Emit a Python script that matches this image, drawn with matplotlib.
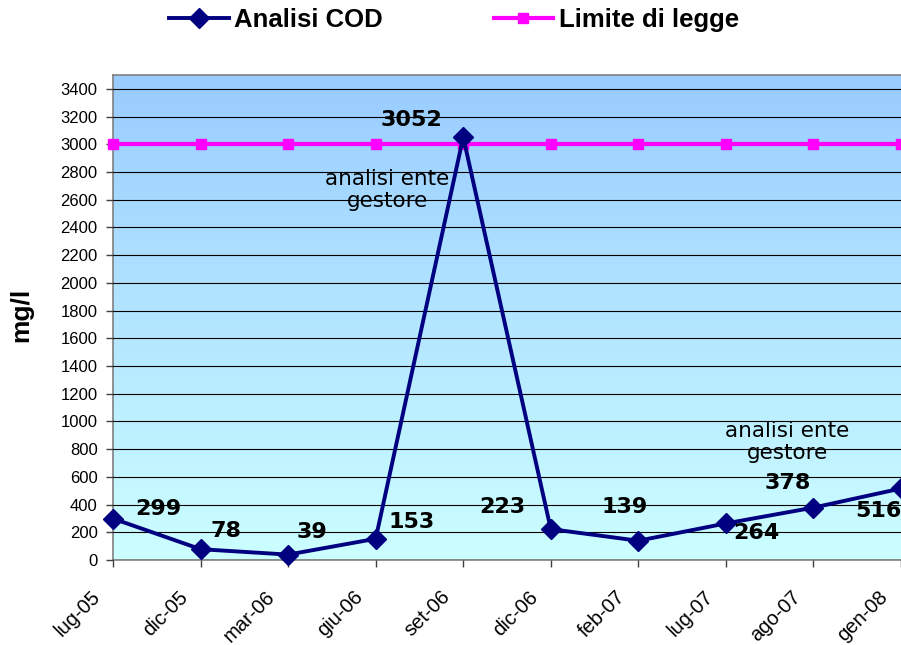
import matplotlib.pyplot as plt
import matplotlib.transforms as mtransforms
import numpy as np
from matplotlib.colors import LinearSegmentedColormap

# data
mesi = ['lug-05', 'dic-05', 'mar-06', 'giu-06', 'set-06',
        'dic-06', 'feb-07', 'lug-07', 'ago-07', 'gen-08']
cod = [299, 78, 39, 153, 3052, 223, 139, 264, 378, 516]
limite = [3000] * len(mesi)
# label offsets in pixels (dx, dy)
label_offsets = [(45, 10), (25, 18), (24, 23), (36, 17), (-52, 17),
                 (-48, 22), (-14, 34), (30, -10), (-26, 25), (-23, -23)]
note_text = 'analisi ente\ngestore'
note_positions = [(3.13, 2670), (7.7, 850)]

fig = plt.figure(figsize=(9.01, 6.45), dpi=100)
ax = fig.add_axes([113 / 901, 1 - 560 / 645, 1 - 113 / 901, (560 - 75) / 645])

x = np.arange(len(mesi))
ax.set_xlim(0, len(mesi) - 1)
ax.set_ylim(0, 3500)

# gradient background
cmap = LinearSegmentedColormap.from_list('bg', ['#CCFFFF', '#99CCFF'])
grad = np.linspace(0, 1, 256).reshape(-1, 1)
ax.imshow(grad, cmap=cmap, aspect='auto', origin='lower',
          extent=[0, len(mesi) - 1, 0, 3500], zorder=0)

ax.set_yticks(np.arange(0, 3401, 200))
ax.set_xticks(x)
ax.set_xticklabels([])
# rotated month labels, placed below-left of each tick
lbl_tr = ax.get_xaxis_transform() + mtransforms.ScaledTranslation(
    -16 / 100, -34 / 100, fig.dpi_scale_trans)
for xi, m in zip(x, mesi):
    ax.text(xi, 0, m, transform=lbl_tr, rotation=45, ha='right', va='center',
            rotation_mode='anchor', fontsize=14.5, family='Liberation Sans',
            clip_on=False)
for lbl in ax.get_yticklabels():
    lbl.set_family('Liberation Sans')
    lbl.set_fontsize(12)
ax.tick_params(axis='both', direction='out', length=5, width=1, color='#404040')
ax.tick_params(axis='y', pad=6)
ax.grid(axis='y', color='black', linewidth=0.8, zorder=1)
ax.set_axisbelow(False)

for side in ['left', 'bottom', 'top']:
    ax.spines[side].set_color('#808080')
    ax.spines[side].set_linewidth(1.2)
ax.spines['right'].set_visible(False)

ax.plot(x, cod, color='#000080', linewidth=2.8, marker='D', markersize=10,
        label='Analisi COD', clip_on=False, zorder=4)
ax.plot(x, limite, color='#FF00FF', linewidth=3, marker='s', markersize=7,
        label='Limite di legge', clip_on=False, zorder=3)

for xi, v, (dx, dy) in zip(x, cod, label_offsets):
    ax.annotate(str(v), (xi, v), xytext=(dx, dy), textcoords='offset pixels',
                ha='center', va='center', fontsize=16, fontweight='bold',
                family='DejaVu Sans', zorder=5, annotation_clip=False)

for nx, ny in note_positions:
    ax.text(nx, ny, note_text, ha='center', va='center', fontsize=15.5,
            family='DejaVu Sans', linespacing=1.15, zorder=5)

ax.set_ylabel('mg/l', fontsize=19, fontweight='bold', family='Liberation Sans')
ax.yaxis.set_label_coords(-80 / 788, 0.505)

fig.legend(loc='center', bbox_to_anchor=(0.504, 1 - 20 / 645), ncol=2,
           frameon=False, prop={'family': 'Liberation Sans', 'weight': 'bold',
                                'size': 18.5},
           handlelength=2.3, handletextpad=0.23, columnspacing=4.3)

fig.savefig('out.png', dpi=100)
